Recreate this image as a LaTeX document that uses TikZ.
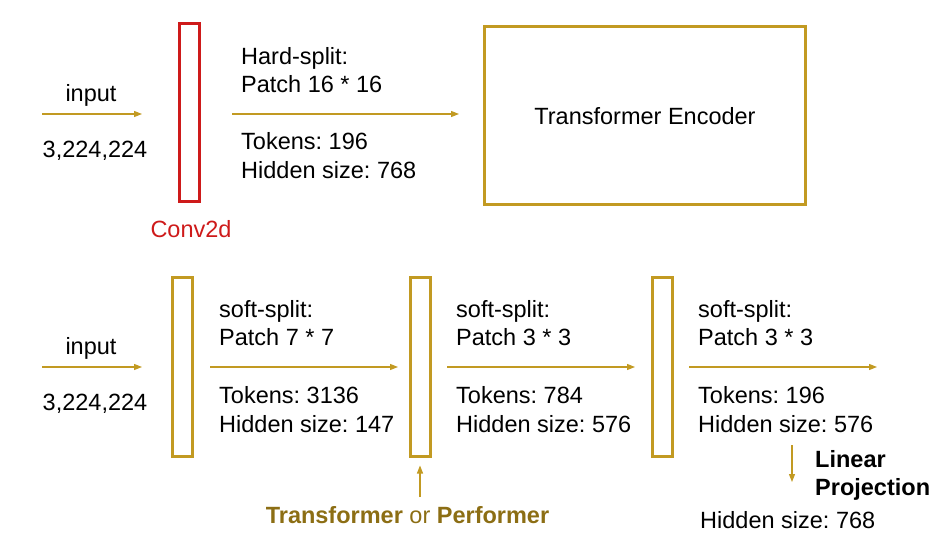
\documentclass[tikz,border=0pt]{standalone}
\usepackage{fontspec}
\setmainfont{Liberation Sans}
\usetikzlibrary{positioning, arrows.meta}
\definecolor{gold}{RGB}{194,154,34}
\definecolor{darkgold}{RGB}{140,110,20}
\definecolor{convred}{RGB}{206,26,26}
\frenchspacing

\begin{document}
\begin{tikzpicture}[x=1pt, y=-1pt, font=\fontsize{23.5}{28}\selectfont]
    % Styles for the bars, the arrows and the texts
    \tikzstyle{bar}=[draw=gold, line width=3pt, minimum width=20pt, minimum height=179pt, inner sep=0pt]
    \tikzstyle{flow}=[draw=gold, line width=1.2pt, -{Triangle[length=8pt,width=6pt]}]
    \tikzstyle{txt}=[anchor=base west, inner sep=0pt]
    \tikzstyle{mid}=[anchor=base, inner sep=0pt]

    \useasboundingbox (0,0) rectangle (937,533);

    % Top row: ViT
    \node[mid] (in1) at (91,101) {input};
    \node[mid] (size1) at (95,157) {3,224,224};
    \coordinate (in1s) at (42,114);
    \coordinate (in1e) at (142,114);
    \draw[flow] (in1s) -- (in1e);

    \node[bar, draw=convred, minimum height=178pt] (conv) at (189.5,112.5) {};
    \node[mid, text=convred] (convlab) at (191,237) {Conv2d};

    \node[txt] (hard) at (241,64) {Hard-split:};
    \node[txt] (hardp) at (241,92) {Patch 16 * 16};
    \node[txt] (hardt) at (241,149) {Tokens: 196};
    \node[txt] (hardh) at (241,178) {Hidden size: 768};
    \coordinate (hs) at (232,114);
    \coordinate (he) at (459,114);
    \draw[flow] (hs) -- (he);

    \node[draw=gold, line width=3pt, minimum width=321pt, minimum height=178pt] (enc) at (645,115.5) {};
    \node[mid] (enclab) at (645,124) {Transformer Encoder};

    % Bottom row: T2T
    \node[mid] (in2) at (91,354) {input};
    \node[mid] (size2) at (95,410) {3,224,224};
    \coordinate (in2s) at (42,367);
    \coordinate (in2e) at (142,367);
    \draw[flow] (in2s) -- (in2e);

    \foreach \x [count=\i] in {182.5, 420, 662.5}
        \node[bar] (bar\i) at (\x,366.5) {};

    \foreach \x/\p/\t/\h [count=\i] in {219/7 * 7/3136/147, 456/3 * 3/784/576, 698/3 * 3/196/576} {
        \node[txt] (soft\i) at (\x,317) {soft-split:};
        \node[txt] (patch\i) at (\x,345) {Patch \p};
        \node[txt] (tok\i) at (\x,403) {Tokens: \t};
        \node[txt] (hid\i) at (\x,432) {Hidden size: \h};
        \coordinate (s\i) at (\x-9,367);
        \coordinate (e\i) at (\x+179,367);
        \draw[flow] (s\i) -- (e\i);
    }

    % Transformer or Performer under the middle bar
    \node[mid, text=darkgold] (tp) at (407.5,523) {\textbf{Transformer} or \textbf{Performer}};
    \coordinate (tpa) at (420,497);
    \draw[flow] (tpa) -- ([yshift=-8pt]bar2.south);

    % Linear projection at the end
    \coordinate (lps) at (792,445);
    \coordinate (lpe) at (792,482);
    \draw[flow] (lps) -- (lpe);
    \node[txt, font=\fontsize{23.5}{28}\selectfont\bfseries] (lin) at (815,467) {Linear};
    \node[txt, font=\fontsize{23.5}{28}\selectfont\bfseries] (proj) at (815,495) {Projection};
    \node[txt] (hidout) at (700,528) {Hidden size: 768};

\end{tikzpicture}
\end{document}
